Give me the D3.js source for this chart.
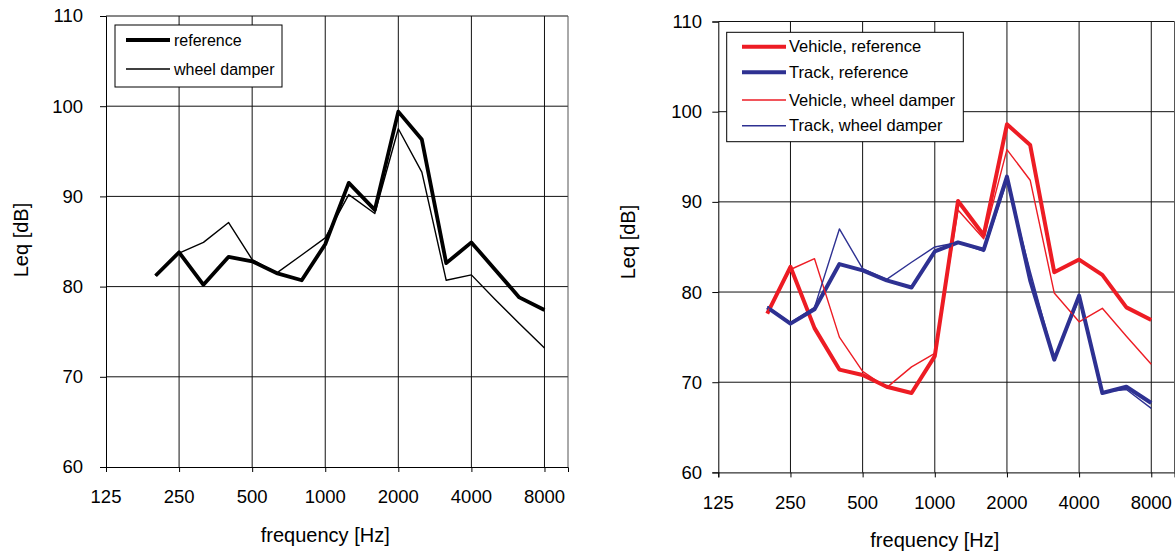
<!DOCTYPE html>
<html>
<head>
<meta charset="utf-8">
<script src="https://cdn.jsdelivr.net/npm/d3@7"></script>
<style>
  body { margin: 0; background: #fff; }
  svg { display: block; font-family: "Liberation Sans", Arial, sans-serif; }
</style>
</head>
<body>
<svg id="chart" width="1175" height="551"></svg>
<script>
// DATA
const freqs = [200, 250, 315, 400, 500, 630, 800, 1000, 1250, 1600, 2000, 2500, 3150, 4000, 5000, 6300, 8000];

// left panel
const leftRef    = [81.2, 83.8, 80.2, 83.3, 82.8, 81.5, 80.7, 84.7, 91.5, 88.5, 99.4, 96.3, 82.6, 84.9, 81.9, 78.8, 77.4];
const leftDamper = [81.2, 83.7, 84.9, 87.1, 83.0, 81.5, 83.5, 85.4, 90.2, 88.1, 97.5, 92.7, 80.7, 81.3, 78.6, 75.9, 73.2];

// right panel
const vehicleRef    = [77.6, 82.8, 76.0, 71.4, 70.8, 69.5, 68.8, 72.9, 90.1, 86.3, 98.6, 96.3, 82.2, 83.6, 81.9, 78.3, 76.9];
const trackRef      = [78.3, 76.5, 78.1, 83.1, 82.4, 81.3, 80.5, 84.5, 85.5, 84.7, 92.8, 81.3, 72.5, 79.6, 68.8, 69.5, 67.7];
const vehicleDamper = [77.8, 82.5, 83.7, 75.0, 71.2, 69.4, 71.7, 73.2, 89.1, 85.9, 95.8, 92.4, 79.9, 76.7, 78.2, 75.1, 72.0];
const trackDamper   = [78.4, 76.6, 78.3, 87.0, 82.6, 81.4, 83.3, 85.0, 85.5, 84.5, 92.3, 82.3, 72.5, 79.2, 68.9, 69.2, 67.1];

const xTicks = [125, 250, 500, 1000, 2000, 4000, 8000];
const yTicks = [60, 70, 80, 90, 100, 110];

const RED = '#ed1c24';
const BLUE = '#2e3192';

const svg = d3.select('#chart');

function drawPanel(cfg) {
    const x = d3.scaleLog().domain([125, 10000]).range([cfg.left, cfg.right]);
    const y = d3.scaleLinear().domain([60, 110]).range([cfg.bottom, cfg.top]);
    const g = svg.append('g');

    // grid
    g.selectAll('line.hgrid')
        .data(yTicks.filter(d => d > 60))
        .enter().append('line')
        .attr('x1', cfg.left).attr('x2', cfg.right)
        .attr('y1', d => y(d)).attr('y2', d => y(d))
        .attr('stroke', '#111').attr('stroke-width', 1);

    g.selectAll('line.vgrid')
        .data(xTicks.filter(d => d > 125))
        .enter().append('line')
        .attr('x1', d => x(d)).attr('x2', d => x(d))
        .attr('y1', cfg.top).attr('y2', cfg.bottom)
        .attr('stroke', '#111').attr('stroke-width', 1);

    // right border
    g.append('line')
        .attr('x1', cfg.right).attr('x2', cfg.right)
        .attr('y1', cfg.top).attr('y2', cfg.bottom)
        .attr('stroke', '#555').attr('stroke-width', 1);

    // axes
    const yAxis = d3.axisLeft(y).tickValues(yTicks).tickSize(6).tickFormat('');
    g.append('g')
        .attr('transform', `translate(${cfg.left},0)`)
        .call(yAxis)
        .call(a => a.select('.domain').attr('stroke', '#000'));

    const xAxis = d3.axisBottom(x).tickValues(xTicks).tickSize(5).tickFormat('');
    g.append('g')
        .attr('transform', `translate(0,${cfg.bottom})`)
        .call(xAxis)
        .call(a => a.select('.domain').attr('stroke', '#000'));

    // tick labels
    g.selectAll('text.ylab')
        .data(yTicks)
        .enter().append('text')
        .attr('x', cfg.yLabelX)
        .attr('y', d => y(d))
        .attr('dy', '0.35em')
        .attr('text-anchor', 'end')
        .style('font-size', cfg.tickFont)
        .text(d => d);

    g.selectAll('text.xlab')
        .data(xTicks)
        .enter().append('text')
        .attr('x', d => x(d))
        .attr('y', cfg.bottom + 30)
        .attr('dy', '0.35em')
        .attr('text-anchor', 'middle')
        .style('font-size', cfg.tickFont)
        .text(d => d);

    // axis titles
    g.append('text')
        .attr('x', (cfg.left + x(8000)) / 2)
        .attr('y', cfg.bottom + 68)
        .attr('dy', '0.35em')
        .attr('text-anchor', 'middle')
        .style('font-size', cfg.titleFont)
        .text('frequency [Hz]');

    g.append('text')
        .attr('transform', `translate(${cfg.yTitleX},${cfg.yTitleY}) rotate(-90)`)
        .attr('dy', '0.35em')
        .attr('text-anchor', 'middle')
        .style('font-size', cfg.titleFont)
        .text('Leq [dB]');

    // series
    const line = d3.line()
        .x((d, i) => x(freqs[i]))
        .y(d => y(d));

    cfg.series.forEach(s => {
        g.append('path')
            .attr('d', line(s.values))
            .attr('fill', 'none')
            .attr('stroke', s.color)
            .attr('stroke-width', s.width)
            .attr('stroke-linejoin', 'round');
    });

    // legend
    const lg = cfg.legend;
    g.append('rect')
        .attr('x', lg.x).attr('y', lg.y)
        .attr('width', lg.w).attr('height', lg.h)
        .attr('fill', '#fff').attr('stroke', '#000').attr('stroke-width', 1);

    const items = g.selectAll('g.item')
        .data(cfg.series)
        .enter().append('g')
        .attr('transform', (d, i) => `translate(0,${lg.rows[i]})`);

    items.append('line')
        .attr('x1', lg.lineX1).attr('x2', lg.lineX2)
        .attr('stroke', d => d.color)
        .attr('stroke-width', d => d.width);

    items.append('text')
        .attr('x', lg.textX)
        .attr('dy', '0.35em')
        .style('font-size', lg.font)
        .text(d => d.name);
}

drawPanel({
    left: 106, right: 568, top: 16, bottom: 467,
    yLabelX: 83, tickFont: '18.5px', titleFont: '20px',
    yTitleX: 21, yTitleY: 240,
    series: [
        { name: 'reference', values: leftRef, color: '#000', width: 3.8 },
        { name: 'wheel damper', values: leftDamper, color: '#000', width: 1.4 }
    ],
    legend: { x: 115, y: 25, w: 167, h: 62, rows: [40, 69], lineX1: 126, lineX2: 170, textX: 174, font: '16px' }
});

drawPanel({
    left: 718.3, right: 1174.5, top: 21.5, bottom: 472.4,
    yLabelX: 702, tickFont: '18.5px', titleFont: '20px',
    yTitleX: 628, yTitleY: 242,
    series: [
        { name: 'Vehicle, reference', values: vehicleRef, color: RED, width: 4 },
        { name: 'Track, reference', values: trackRef, color: BLUE, width: 4 },
        { name: 'Vehicle, wheel damper', values: vehicleDamper, color: RED, width: 1.4 },
        { name: 'Track, wheel damper', values: trackDamper, color: BLUE, width: 1.4 }
    ],
    legend: { x: 726.7, y: 32.3, w: 236.6, h: 109.4, rows: [46.7, 72.3, 100, 125.7], lineX1: 742, lineX2: 786, textX: 789, font: '16.5px' }
});
</script>
</body>
</html>
